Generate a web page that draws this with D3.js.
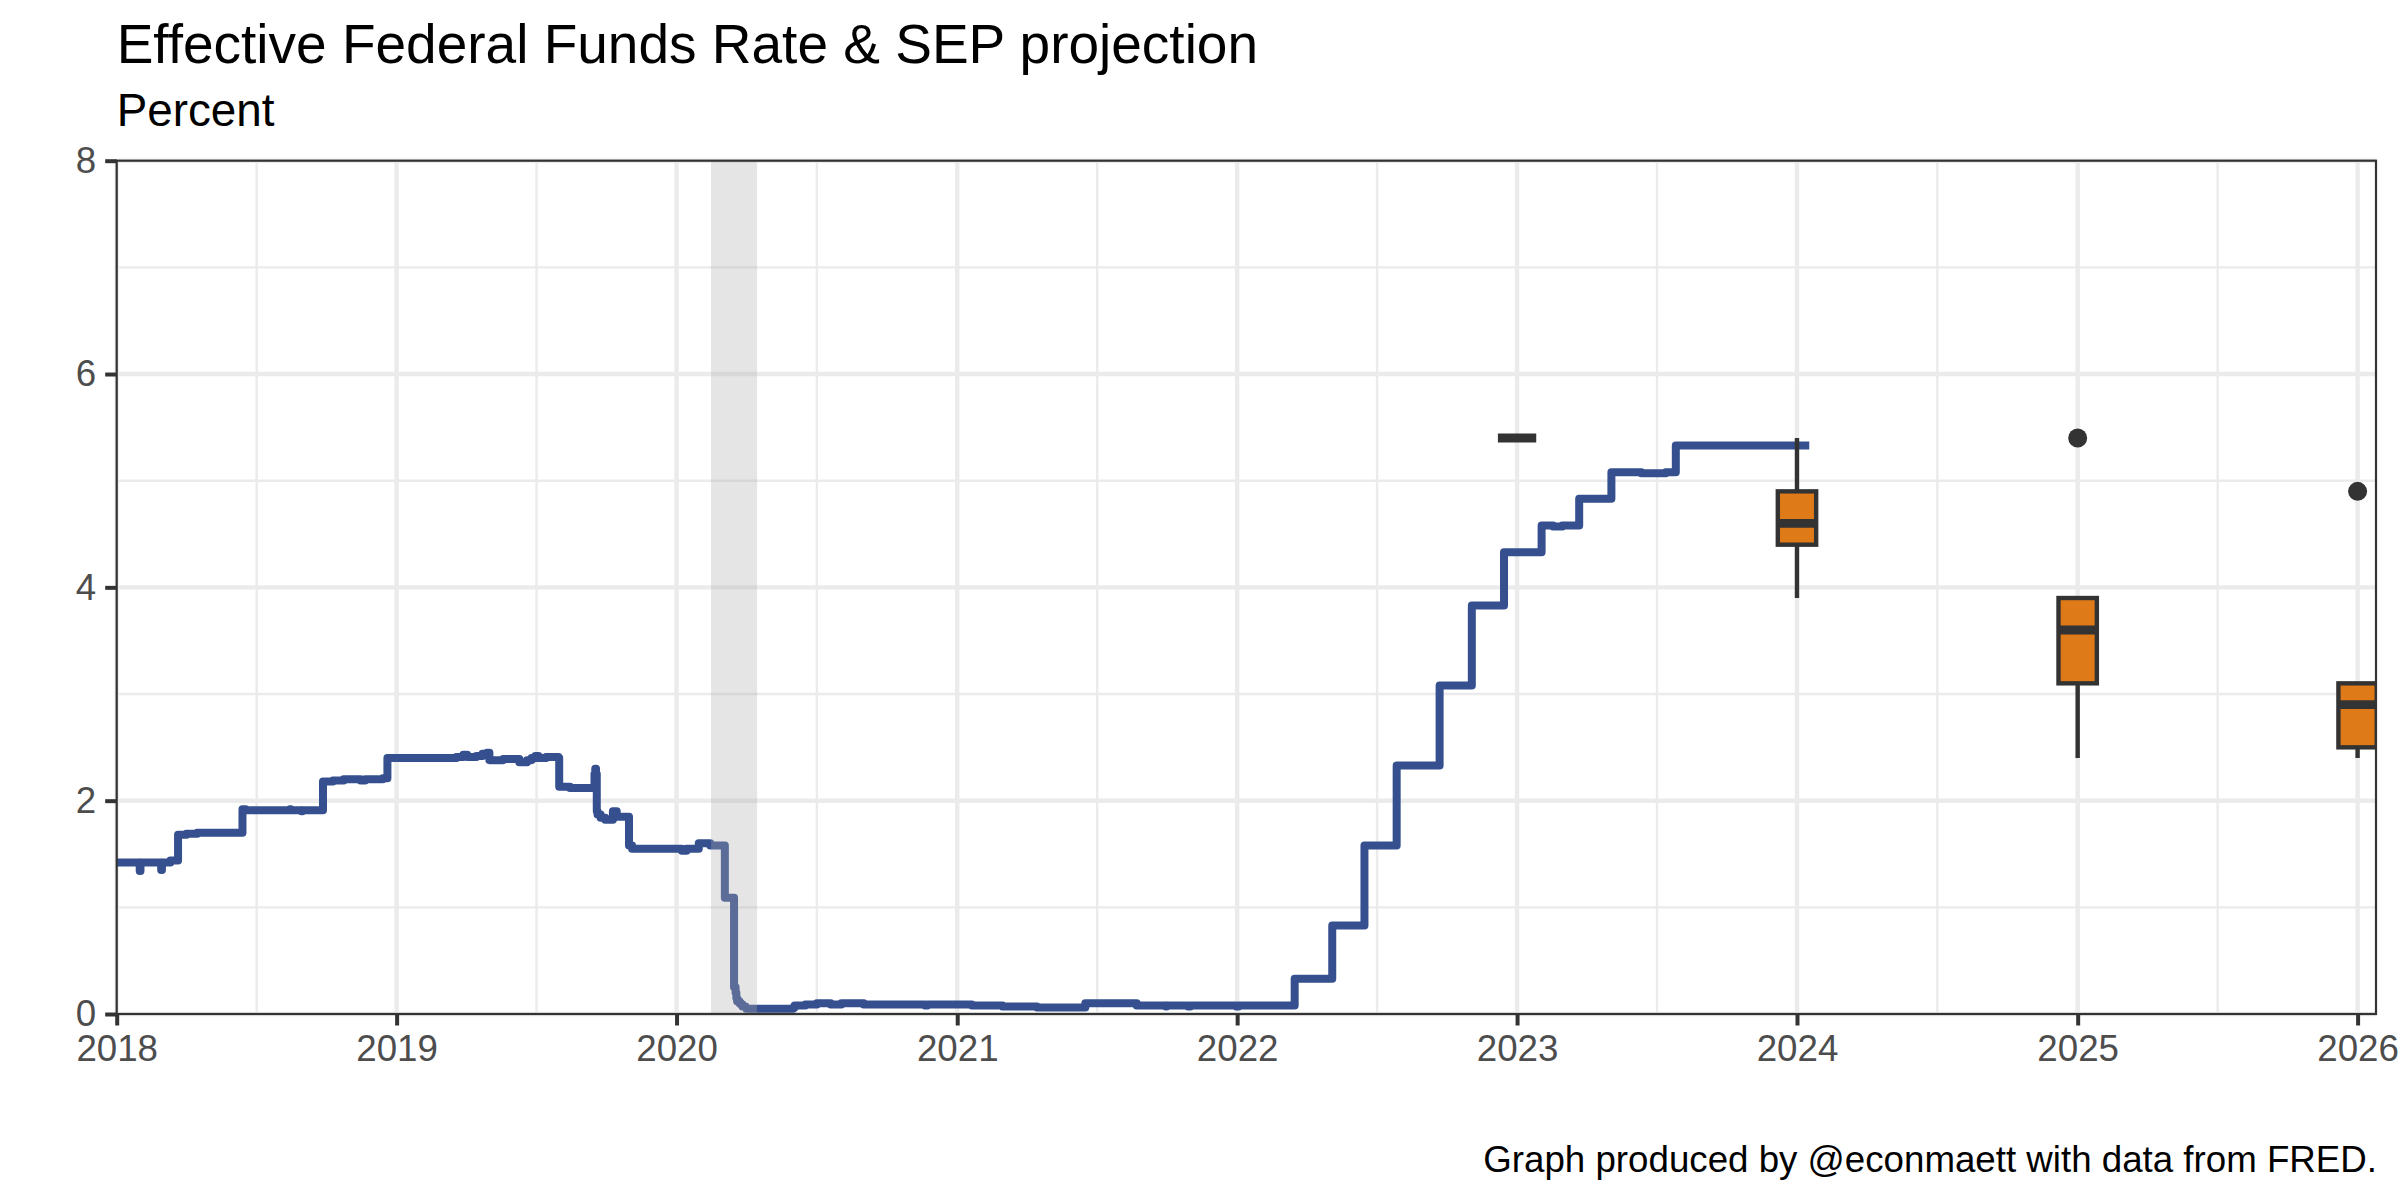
<!DOCTYPE html>
<html>
<head>
<meta charset="utf-8">
<script src="https://cdn.jsdelivr.net/npm/d3@7"></script>
<style>
  body { margin: 0; background: #fff; }
  svg text { font-family: "Liberation Sans", Arial, sans-serif; }
</style>
</head>
<body>
<div id="chart"></div>
<script>
// effective fed funds rate, change points (step after)
const effrDates = [
  "2018-01-01", "2018-01-31", "2018-02-01", "2018-02-28", "2018-03-01", "2018-03-12",
  "2018-03-22", "2018-04-02", "2018-04-16", "2018-06-14", "2018-06-18", "2018-08-15",
  "2018-08-16", "2018-08-30", "2018-08-31", "2018-09-27", "2018-10-10", "2018-10-24",
  "2018-11-15", "2018-11-21", "2018-12-14", "2018-12-20", "2019-03-20", "2019-03-29",
  "2019-04-03", "2019-04-15", "2019-04-23", "2019-04-29", "2019-05-02", "2019-05-20",
  "2019-06-10", "2019-06-20", "2019-06-26", "2019-07-01", "2019-07-05", "2019-07-15",
  "2019-07-31", "2019-08-01", "2019-08-15", "2019-09-16", "2019-09-17", "2019-09-18",
  "2019-09-19", "2019-09-20", "2019-09-24", "2019-09-30", "2019-10-10", "2019-10-15",
  "2019-10-31", "2019-11-04", "2020-01-08", "2020-01-14", "2020-01-30", "2020-02-14",
  "2020-03-04", "2020-03-16", "2020-03-18", "2020-03-19", "2020-03-20", "2020-03-23",
  "2020-03-25", "2020-03-27", "2020-03-31", "2020-04-01", "2020-06-01", "2020-06-03",
  "2020-06-17", "2020-07-02", "2020-07-20", "2020-08-03", "2020-09-01", "2020-11-20",
  "2020-11-23", "2021-01-20", "2021-02-10", "2021-03-01", "2021-04-15", "2021-05-10",
  "2021-06-17", "2021-08-23", "2021-09-30", "2021-10-01", "2021-10-29", "2021-11-01",
  "2021-12-31", "2022-01-03", "2022-03-17", "2022-05-05", "2022-06-16", "2022-07-28",
  "2022-09-22", "2022-11-03", "2022-12-15", "2023-02-02", "2023-02-17", "2023-03-01",
  "2023-03-23", "2023-05-04", "2023-06-12", "2023-07-14", "2023-07-27", "2024-01-17"
];
const effrValues = [
  1.42, 1.34, 1.42, 1.35, 1.42, 1.44,
  1.68, 1.69, 1.70, 1.92, 1.91, 1.92,
  1.91, 1.90, 1.91, 2.18, 2.19, 2.20,
  2.19, 2.20, 2.21, 2.40, 2.41, 2.43,
  2.41, 2.42, 2.44, 2.45, 2.38, 2.39,
  2.36, 2.38, 2.40, 2.42, 2.40, 2.41,
  2.40, 2.13, 2.12, 2.25, 2.30, 2.25,
  1.90, 1.87, 1.84, 1.82, 1.90, 1.85,
  1.58, 1.55, 1.53, 1.55, 1.60, 1.58,
  1.09, 0.25, 0.20, 0.15, 0.12, 0.10,
  0.09, 0.07, 0.06, 0.05, 0.06, 0.08,
  0.09, 0.10, 0.09, 0.10, 0.09, 0.08,
  0.09, 0.08, 0.08, 0.07, 0.06, 0.06,
  0.10, 0.08, 0.07, 0.08, 0.07, 0.08,
  0.07, 0.08, 0.33, 0.83, 1.58, 2.33,
  3.08, 3.83, 4.33, 4.58, 4.57, 4.58,
  4.83, 5.08, 5.07, 5.08, 5.33, 5.33
];

// SEP projection (Dec 2023), box stats per year
const sepYears = ["2023-01-01", "2024-01-01", "2025-01-01", "2026-01-01"];
const sepLow = [5.4, 3.9, 2.4, 2.4];
const sepQ1 = [5.4, 4.4, 3.1, 2.5];
const sepMedian = [5.4, 4.6, 3.6, 2.9];
const sepQ3 = [5.4, 4.9, 3.9, 3.1];
const sepHigh = [5.4, 5.4, 3.9, 3.1];
const sepOutliers = [[], [], [5.4], [4.9]];

// recession shading
const recessionStart = ["2020-02-15"];
const recessionEnd = ["2020-04-15"];

const yTicks = [0, 2, 4, 6, 8];
const xTickYears = [2018, 2019, 2020, 2021, 2022, 2023, 2024, 2025, 2026];

const titleText = "Effective Federal Funds Rate & SEP projection";
const subtitleText = "Percent";
const captionText = "Graph produced by @econmaett with data from FRED.";

var svg;
var x;
var y;
var margin;
const parseDate = d3.utcParse("%Y-%m-%d");

function drawChart() {
    const width = 2400;
    const height = 1200;
    margin = { top: 160.7, right: 24, bottom: 186, left: 116.7 };

    svg = d3.select("#chart").append("svg")
        .attr("width", width)
        .attr("height", height);

    x = d3.scaleUtc()
        .domain([parseDate("2018-01-01"), parseDate("2026-01-25")])
        .range([margin.left, width - margin.right]);

    y = d3.scaleLinear()
        .domain([0, 8])
        .range([height - margin.bottom, margin.top]);

    const x0 = x.range()[0], x1 = x.range()[1];
    const y0 = y.range()[0], y1 = y.range()[1];

    svg.append("clipPath").attr("id", "panel-clip")
        .append("rect")
        .attr("x", x0).attr("y", y1)
        .attr("width", x1 - x0).attr("height", y0 - y1);

    // grid
    const grid = svg.append("g");
    const minorY = d3.range(1, 8, 2);
    grid.selectAll(".gy-minor").data(minorY).join("line")
        .attr("x1", x0).attr("x2", x1)
        .attr("y1", d => y(d)).attr("y2", d => y(d))
        .attr("stroke", "#ebebeb").attr("stroke-width", 2.4);
    const yearDates = xTickYears.map(d => new Date(Date.UTC(d, 0, 1)));
    const midDates = d3.pairs(yearDates).map(p => new Date((+p[0] + +p[1]) / 2));
    grid.selectAll(".gx-minor").data(midDates).join("line")
        .attr("x1", d => x(d)).attr("x2", d => x(d))
        .attr("y1", y0).attr("y2", y1)
        .attr("stroke", "#ebebeb").attr("stroke-width", 2.4);
    grid.selectAll(".gy-major").data(yTicks).join("line")
        .attr("x1", x0).attr("x2", x1)
        .attr("y1", d => y(d)).attr("y2", d => y(d))
        .attr("stroke", "#ebebeb").attr("stroke-width", 4.4);
    grid.selectAll(".gx-major").data(yearDates).join("line")
        .attr("x1", d => x(d)).attr("x2", d => x(d))
        .attr("y1", y0).attr("y2", y1)
        .attr("stroke", "#ebebeb").attr("stroke-width", 4.4);

    const panel = svg.append("g").attr("clip-path", "url(#panel-clip)");

    // EFFR line
    const effr = effrDates.map((d, i) => ({ date: parseDate(d), value: effrValues[i] }));
    const line = d3.line()
        .x(d => x(d.date))
        .y(d => y(d.value))
        .curve(d3.curveStepAfter);
    panel.append("path")
        .datum(effr)
        .attr("d", line)
        .attr("fill", "none")
        .attr("stroke", "#36508F")
        .attr("stroke-width", 8)
        .attr("stroke-linejoin", "round");

    // SEP boxplots
    const halfDays = 25 * 24 * 3600 * 1000;
    const boxes = sepYears.map((d, i) => ({
        date: parseDate(d), low: sepLow[i], q1: sepQ1[i], med: sepMedian[i],
        q3: sepQ3[i], high: sepHigh[i], out: sepOutliers[i]
    }));
    const bx = panel.selectAll(".box").data(boxes).join("g");
    bx.append("line")
        .attr("x1", d => x(d.date)).attr("x2", d => x(d.date))
        .attr("y1", d => y(d.low)).attr("y2", d => y(d.q1))
        .attr("stroke", "#333333").attr("stroke-width", 4.4);
    bx.append("line")
        .attr("x1", d => x(d.date)).attr("x2", d => x(d.date))
        .attr("y1", d => y(d.q3)).attr("y2", d => y(d.high))
        .attr("stroke", "#333333").attr("stroke-width", 4.4);
    bx.append("rect")
        .attr("x", d => x(new Date(+d.date - halfDays)))
        .attr("width", d => x(new Date(+d.date + halfDays)) - x(new Date(+d.date - halfDays)))
        .attr("y", d => y(d.q3))
        .attr("height", d => y(d.q1) - y(d.q3))
        .attr("fill", "#DF7A18")
        .attr("stroke", "#333333").attr("stroke-width", 4.4);
    bx.append("line")
        .attr("x1", d => x(new Date(+d.date - halfDays)))
        .attr("x2", d => x(new Date(+d.date + halfDays)))
        .attr("y1", d => y(d.med)).attr("y2", d => y(d.med))
        .attr("stroke", "#333333").attr("stroke-width", 8.8);
    bx.selectAll("circle").data(d => d.out.map(v => ({ date: d.date, v: v }))).join("circle")
        .attr("cx", d => x(d.date)).attr("cy", d => y(d.v))
        .attr("r", 9.5).attr("fill", "#333333");

    // recession
    panel.selectAll(".rec").data(recessionStart).join("rect")
        .attr("x", d => x(parseDate(d)))
        .attr("width", (d, i) => x(parseDate(recessionEnd[i])) - x(parseDate(d)))
        .attr("y", y1).attr("height", y0 - y1)
        .attr("fill", "#ababab").attr("fill-opacity", 0.31);

    // border
    svg.append("rect")
        .attr("x", x0).attr("y", y1)
        .attr("width", x1 - x0).attr("height", y0 - y1)
        .attr("fill", "none").attr("stroke", "#333333").attr("stroke-width", 2.2);

    updateAxis(y0, x0);

    // texts
    svg.append("text")
        .attr("x", x0).attr("y", 63)
        .attr("font-size", 55).attr("fill", "#000")
        .text(titleText);
    svg.append("text")
        .attr("x", x0).attr("y", 126)
        .attr("font-size", 45.8).attr("fill", "#000")
        .text(subtitleText);
    svg.append("text")
        .attr("x", x1 + 1).attr("y", 1172)
        .attr("text-anchor", "end")
        .attr("font-size", 36.7).attr("fill", "#000")
        .text(captionText);
}

function updateAxis(bottom, left) {
    const xAxis = d3.axisBottom(x)
        .tickValues(xTickYears.map(d => new Date(Date.UTC(d, 0, 1))))
        .tickFormat(d3.utcFormat("%Y"))
        .tickSize(11.5)
        .tickPadding(9);
    const yAxis = d3.axisLeft(y)
        .tickValues(yTicks)
        .tickFormat(d3.format("d"))
        .tickSize(11.5)
        .tickPadding(9);

    const gx = svg.append("g")
        .attr("class", "x-axis")
        .attr("transform", `translate(0,${bottom})`)
        .call(xAxis);
    const gy = svg.append("g")
        .attr("class", "y-axis")
        .attr("transform", `translate(${left},0)`)
        .call(yAxis);

    [gx, gy].forEach(g => {
        g.select(".domain").remove();
        g.selectAll(".tick line").attr("stroke", "#333333").attr("stroke-width", 4);
        g.selectAll(".tick text")
            .attr("fill", "#4d4d4d")
            .attr("font-size", 36.7)
            .attr("font-family", "Liberation Sans, Arial, sans-serif");
    });
}

document.addEventListener("DOMContentLoaded", () => {
    drawChart();
});
</script>
</body>
</html>
